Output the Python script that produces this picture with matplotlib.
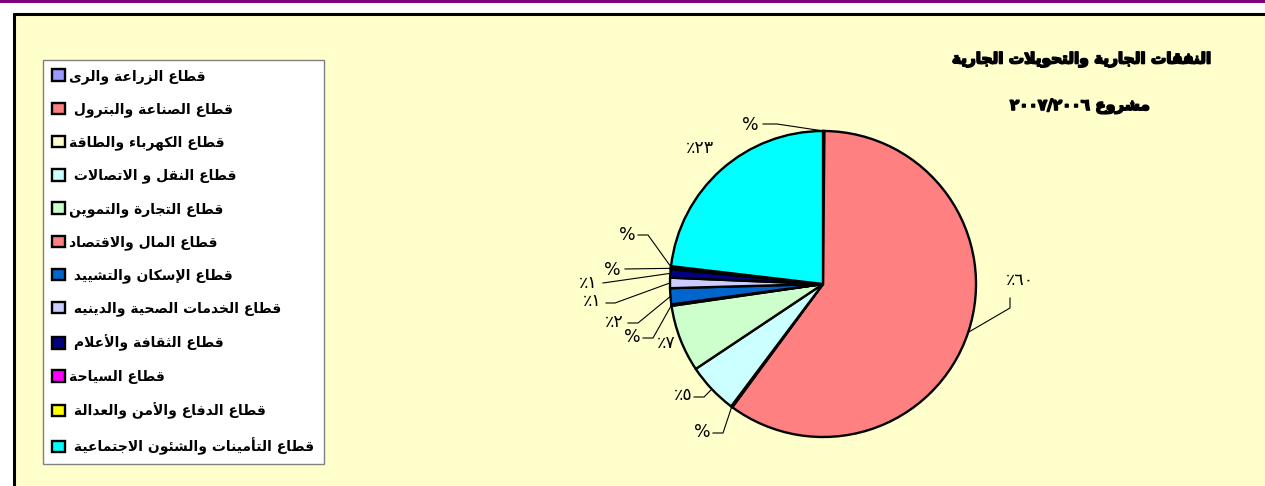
import matplotlib.pyplot as plt
from matplotlib.patches import Rectangle
import matplotlib.patheffects as pe
import numpy as np

# ---- data ----
sectors = [
    "قطاع الزراعة والرى",
    "قطاع الصناعة والبترول ",
    "قطاع الكهرباء والطاقة",
    "قطاع النقل و الاتصالات ",
    "قطاع التجارة والتموين",
    "قطاع المال والاقتصاد",
    "قطاع الإسكان والتشييد ",
    "قطاع الخدمات الصحية والدينيه ",
    "قطاع الثقافة والأعلام ",
    "قطاع السياحة",
    "قطاع الدفاع والأمن والعدالة ",
    "قطاع التأمينات والشئون الاجتماعية ",
]
shares = [0.15, 60.1, 0.15, 5.4, 7.1, 0.15, 1.7, 1.1, 0.9, 0.15, 0.15, 23.2]
colors = ["#9999FF", "#FF8080", "#FFFFCC", "#CCFFFF", "#CCFFCC", "#FF8080",
          "#0066CC", "#CCCCFF", "#000080", "#FF00FF", "#FFFF00", "#00FFFF"]
title1 = "النفقات الجارية والتحويلات الجارية"
title2 = "مشروع"
years = (2007, 2006)

# label layout in pixels (top-left origin): text centre, leader start, leader elbow
label_xy = [(750, 125), (1020, 280), (702, 432), (683, 395), (666, 343), (632, 337),
            (614, 322), (592, 301), (588, 283), (612, 270), (627, 235), (700, 148)]
leaders = [((763, 124), (777, 124)), ((1010, 298), (1010, 308)), ((713, 433), (723, 433)),
           ((694, 397), (704, 397)), None, ((643, 338), (653, 338)),
           ((628, 323), (638, 323)), ((606, 303), (615, 303)), ((603, 283), (603, 283)),
           ((625, 269), (625, 269)), ((638, 235), (648, 235)), None]

# ---- minimal Arabic shaping (presentation forms + visual order) ----
_T = {
    '\u0621': (0xFE80, 'U'), '\u0622': (0xFE81, 'R'), '\u0623': (0xFE83, 'R'),
    '\u0624': (0xFE85, 'R'), '\u0625': (0xFE87, 'R'), '\u0626': (0xFE89, 'D'),
    '\u0627': (0xFE8D, 'R'), '\u0628': (0xFE8F, 'D'), '\u0629': (0xFE93, 'R'),
    '\u062A': (0xFE95, 'D'), '\u062B': (0xFE99, 'D'), '\u062C': (0xFE9D, 'D'),
    '\u062D': (0xFEA1, 'D'), '\u062E': (0xFEA5, 'D'), '\u062F': (0xFEA9, 'R'),
    '\u0630': (0xFEAB, 'R'), '\u0631': (0xFEAD, 'R'), '\u0632': (0xFEAF, 'R'),
    '\u0633': (0xFEB1, 'D'), '\u0634': (0xFEB5, 'D'), '\u0635': (0xFEB9, 'D'),
    '\u0636': (0xFEBD, 'D'), '\u0637': (0xFEC1, 'D'), '\u0638': (0xFEC5, 'D'),
    '\u0639': (0xFEC9, 'D'), '\u063A': (0xFECD, 'D'), '\u0641': (0xFED1, 'D'),
    '\u0642': (0xFED5, 'D'), '\u0643': (0xFED9, 'D'), '\u0644': (0xFEDD, 'D'),
    '\u0645': (0xFEE1, 'D'), '\u0646': (0xFEE5, 'D'), '\u0647': (0xFEE9, 'D'),
    '\u0648': (0xFEED, 'R'), '\u0649': (0xFEEF, 'R'), '\u064A': (0xFEF1, 'D'),
}
_LA = {'\u0622': 0xFEF5, '\u0623': 0xFEF7, '\u0625': 0xFEF9, '\u0627': 0xFEFB}


def shape(text):
    toks = []
    i = 0
    while i < len(text):
        c = text[i]
        if c == '\u0644' and i + 1 < len(text) and text[i + 1] in _LA:
            toks.append((_LA[text[i + 1]], 'R'))
            i += 2
            continue
        toks.append(_T.get(c, (c, None)))
        i += 1
    out = []
    for k, (base, kind) in enumerate(toks):
        if kind is None:
            out.append(base)
            continue
        prev = k > 0 and toks[k - 1][1] == 'D'
        nxt = kind == 'D' and k + 1 < len(toks) and toks[k + 1][1] in ('R', 'D')
        if kind == 'U':
            off = 0
        elif kind == 'R':
            off = 1 if prev else 0
        else:
            off = 3 if (prev and nxt) else 1 if prev else 2 if nxt else 0
        out.append(chr(base + off))
    return ''.join(reversed(out))


def ar_num(n):
    return ''.join(chr(0x0660 + int(d)) for d in str(n))


W, H = 1265, 486
fig = plt.figure(figsize=(12.65, 4.86), dpi=100, facecolor='white')
ax = fig.add_axes([0, 0, 1, 1])

# background frame
ax.add_patch(Rectangle((13, 0), W - 13, H - 14, facecolor='#FFFFCC', edgecolor='none', zorder=0))
ax.add_patch(Rectangle((0, H - 3), W, 3, facecolor='#800080', edgecolor='none', zorder=0))
ax.plot([13, W], [H - 14, H - 14], color='black', lw=2.2, zorder=1, solid_capstyle='butt')
ax.plot([14, 14], [0, H - 13], color='black', lw=2.2, zorder=1, solid_capstyle='butt')

cx, cy, r = 823, H - 284, 153
wedges, _ = ax.pie(shares, colors=colors, startangle=90, counterclock=False,
                   center=(cx, cy), radius=r,
                   wedgeprops=dict(edgecolor='black', linewidth=1.7))
ax.set_xlim(0, W)
ax.set_ylim(0, H)
ax.axis('off')

# percentage labels
for k, (w, v) in enumerate(zip(wedges, shares)):
    v = round(v)
    txt = '%' if v == 0 else '\u066A' + ar_num(v)
    x, y = label_xy[k]
    ax.text(x, H - y, txt, ha='center', va='center',
            fontsize=12.5, family='DejaVu Sans', color='black')
    if leaders[k] is not None:
        mid = np.deg2rad((w.theta1 + w.theta2) / 2)
        ex, ey = cx + r * np.cos(mid), cy + r * np.sin(mid)
        (sx, sy), (bx, by) = leaders[k]
        ax.plot([sx, bx, ex], [H - sy, H - by, ey], color='black', lw=0.8, zorder=3)

# legend
fig.legend(wedges, [shape(s) for s in sectors], loc='upper left',
           bbox_to_anchor=(43 / W, (H - 460) / H, 281 / W, 400 / H), mode='expand',
           borderaxespad=0, fancybox=False, framealpha=1, facecolor='white',
           edgecolor='#808080', prop=dict(family='DejaVu Sans', weight='bold', size=10),
           handlelength=0.9, handleheight=0.9, handletextpad=0.3,
           labelspacing=1.33, borderpad=0.65)

# titles
bold = [pe.withStroke(linewidth=1.2, foreground='black')]
fig.text(1081 / W, 1 - 60 / H, shape(title1), ha='center', va='center',
         fontsize=11, fontweight='heavy', family='DejaVu Sans', path_effects=bold)
fig.text(1080 / W, 1 - 106 / H, ar_num(years[0]) + '/' + ar_num(years[1]) + ' ' + shape(title2),
         ha='center', va='center', fontsize=11, fontweight='heavy', family='DejaVu Sans',
         path_effects=bold)

fig.savefig('out.png', dpi=100, facecolor=fig.get_facecolor())
